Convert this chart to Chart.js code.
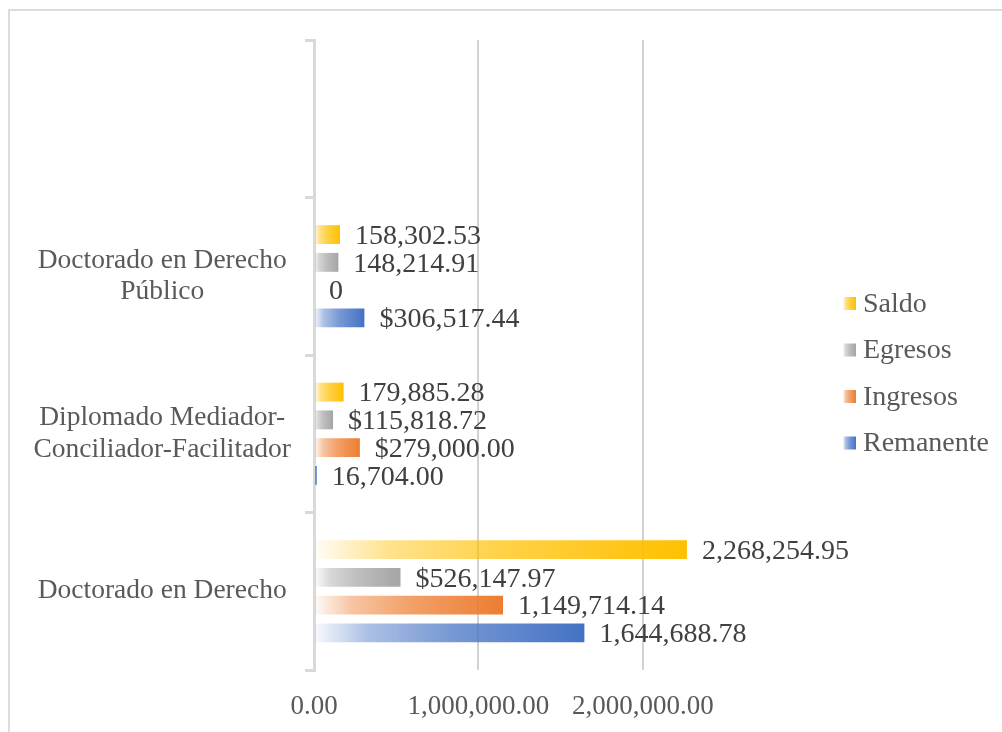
<!DOCTYPE html>
<html>
<head>
<meta charset="utf-8">
<script src="https://cdn.jsdelivr.net/npm/chart.js@4/dist/chart.umd.min.js"></script>
<style>
  html, body { margin: 0; padding: 0; background: #fff; overflow: hidden; }
  #wrap { position: relative; width: 1002px; height: 732px; }
  #frame { position: absolute; left: 8px; top: 9px; width: 1100px; height: 800px;
           border: 2px solid #dcdcdc; box-sizing: border-box; }
  #chart { position: absolute; left: 0; top: 0; }
</style>
</head>
<body>
<div id="wrap">
  <div id="frame"></div>
  <canvas id="chart" width="1002" height="732"></canvas>
</div>
<script>
// ── Data (categories listed top → bottom, top slot is empty) ──────────────────
const categories = [
  "",
  ["Doctorado en Derecho", "Público"],
  ["Diplomado Mediador-", "Conciliador-Facilitador"],
  "Doctorado en Derecho",
];

const saldo     = [null, 158302.53, 179885.28, 2268254.95];
const egresos   = [null, 148214.91, 115818.72, 526147.97];
const ingresos  = [null, 0,         279000.00, 1149714.14];
const remanente = [null, 306517.44, 16704.00,  1644688.78];

// label formats as shown on the chart: "$" currency, "n" plain number, "0" bare zero
const saldoFmt     = [null, "n", "n", "n"];
const egresosFmt   = [null, "n", "$", "$"];
const ingresosFmt  = [null, "0", "$", "n"];
const remanenteFmt = [null, "$", "n", "n"];

const xTicks = [0, 1000000, 2000000];

// ── Style helpers ─────────────────────────────────────────────────────────────
const FONT = '"Liberation Serif", "Times New Roman", serif';
const AXIS_TEXT = "#595959";
const VALUE_TEXT = "#404040";

function rgba(hex, a) {
  const n = parseInt(hex.slice(1), 16);
  return `rgba(${(n >> 16) & 255},${(n >> 8) & 255},${n & 255},${a})`;
}

function gradientBetween(c, x0, x1, hex) {
  const g = c.createLinearGradient(x0, 0, x1, 0);
  g.addColorStop(0, rgba(hex, 0.03));
  g.addColorStop(0.2, rgba(hex, 0.45));
  g.addColorStop(0.5, rgba(hex, 0.72));
  g.addColorStop(1, rgba(hex, 1));
  return g;
}

function barFill(hex) {
  return (ctx) => {
    const x = ctx.chart.scales.x;
    if (!x || ctx.type !== "data" || ctx.raw == null) return hex;
    const x0 = x.getPixelForValue(0);
    const x1 = x.getPixelForValue(ctx.raw);
    if (x1 - x0 < 2) return hex;
    return gradientBetween(ctx.chart.ctx, x0, x1, hex);
  };
}

function fmtValue(v, kind) {
  if (kind === "0") return "0";
  const s = v.toLocaleString("en-US", { minimumFractionDigits: 2, maximumFractionDigits: 2 });
  return kind === "$" ? "$" + s : s;
}

const series = [
  { label: "Saldo",     data: saldo,     fmt: saldoFmt,     color: "#FFC000" },
  { label: "Egresos",   data: egresos,   fmt: egresosFmt,   color: "#A5A5A5" },
  { label: "Ingresos",  data: ingresos,  fmt: ingresosFmt,  color: "#ED7D31" },
  { label: "Remanente", data: remanente, fmt: remanenteFmt, color: "#4472C4" },
];

// ── Value labels to the right of each bar ─────────────────────────────────────
const valueLabels = {
  id: "valueLabels",
  afterDatasetsDraw(chart) {
    const c = chart.ctx;
    c.save();
    c.font = `28px ${FONT}`;
    c.fillStyle = VALUE_TEXT;
    c.textAlign = "left";
    c.textBaseline = "middle";
    chart.data.datasets.forEach((ds, i) => {
      chart.getDatasetMeta(i).data.forEach((bar, j) => {
        const v = ds.data[j];
        if (v == null) return;
        c.fillText(fmtValue(v, ds.fmt[j]), bar.x + 15, bar.y + 2);
      });
    });
    c.restore();
  },
};

// ── Legend drawn by hand (Excel style: small gradient squares) ────────────────
const sideLegend = {
  id: "sideLegend",
  afterDraw(chart) {
    const c = chart.ctx;
    c.save();
    c.font = `28px ${FONT}`;
    c.textBaseline = "middle";
    c.textAlign = "left";
    series.forEach((s, i) => {
      const y = 303.5 + i * 46.5;
      const bx = 843, size = 13;
      c.fillStyle = gradientBetween(c, bx, bx + size, s.color);
      c.fillRect(bx, y - size / 2, size, size);
      c.fillStyle = AXIS_TEXT;
      c.fillText(s.label, 863, y + 1);
    });
    c.restore();
  },
};

// ── Chart ─────────────────────────────────────────────────────────────────────
new Chart(document.getElementById("chart"), {
  type: "bar",
  data: {
    labels: categories,
    datasets: series.map(s => ({
      label: s.label,
      data: s.data,
      fmt: s.fmt,
      backgroundColor: barFill(s.color),
      borderWidth: 0,
      categoryPercentage: 0.705,
      barPercentage: 0.68,
    })),
  },
  options: {
    indexAxis: "y",
    responsive: false,
    animation: false,
    layout: { padding: { top: 40, right: 277, bottom: 0, left: 0 } },
    plugins: {
      legend: { display: false },
      tooltip: { enabled: false },
    },
    scales: {
      x: {
        min: 0,
        max: 2500000,
        afterBuildTicks: (scale) => {
          scale.ticks = xTicks.map(v => ({ value: v }));
        },
        afterFit: (scale) => { scale.height = 62; },
        border: { display: false },
        grid: {
          drawTicks: false,
          lineWidth: 2,
          color: (c) => (c.tick && c.tick.value === 0 ? "rgba(0,0,0,0)" : "#d2d2d2"),
        },
        ticks: {
          padding: 21,
          color: AXIS_TEXT,
          font: { family: FONT, size: 27 },
          maxRotation: 0,
          callback: (v) => Number(v).toLocaleString("en-US", { minimumFractionDigits: 2, maximumFractionDigits: 2 }),
        },
      },
      y: {
        afterFit: (scale) => { scale.width = 314; },
        border: { display: true, color: "#d9d9d9", width: 3 },
        grid: {
          offset: true,
          drawOnChartArea: false,
          drawTicks: true,
          tickLength: 9,
          lineWidth: 3,
          color: "#d9d9d9",
        },
        ticks: {
          padding: 14,
          crossAlign: "center",
          color: AXIS_TEXT,
          font: { family: FONT, size: 27.5, lineHeight: 1.16 },
        },
      },
    },
  },
  plugins: [valueLabels, sideLegend],
});
</script>
</body>
</html>
